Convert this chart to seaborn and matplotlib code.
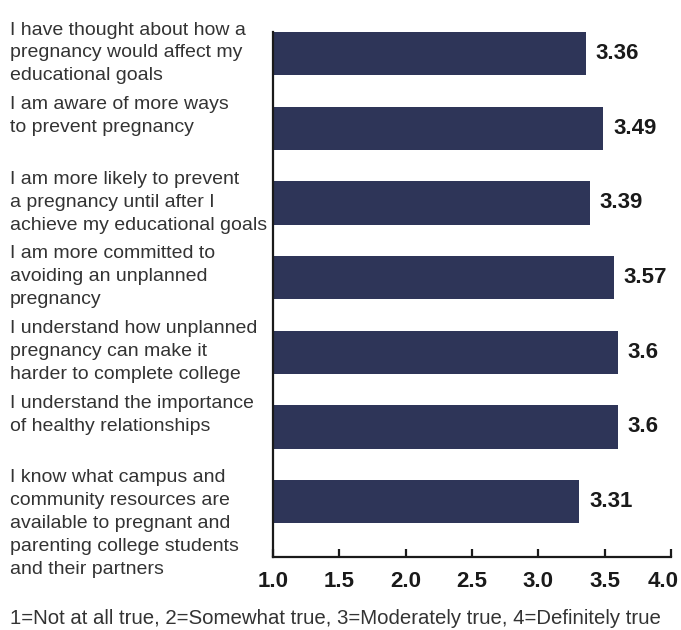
import matplotlib
matplotlib.use("Agg")
import matplotlib.pyplot as plt
import matplotlib.transforms as mtransforms
import seaborn as sns
import pandas as pd

categories = [
    "I have thought about how a\npregnancy would affect my\neducational goals",
    "I am aware of more ways\nto prevent pregnancy",
    "I am more likely to prevent\na pregnancy until after I\nachieve my educational goals",
    "I am more committed to\navoiding an unplanned\npregnancy",
    "I understand how unplanned\npregnancy can make it\nharder to complete college",
    "I understand the importance\nof healthy relationships",
    "I know what campus and\ncommunity resources are\navailable to pregnant and\nparenting college students\nand their partners",
]
values = [3.36, 3.49, 3.39, 3.57, 3.6, 3.6, 3.31]
value_labels = ["3.36", "3.49", "3.39", "3.57", "3.6", "3.6", "3.31"]
x_ticks = [1.0, 1.5, 2.0, 2.5, 3.0, 3.5, 4.0]
x_ticklabels = ["1.0", "1.5", "2.0", "2.5", "3.0", "3.5", "4.0"]
caption = "1=Not at all true, 2=Somewhat true, 3=Moderately true, 4=Definitely true"

sns.set_theme(style="white")
plt.rcParams["font.family"] = ["Liberation Sans", "DejaVu Sans"]

df = pd.DataFrame({"item": categories, "value": values})

fig = plt.figure(figsize=(6.81, 6.30), dpi=100)
ax = fig.add_axes([273 / 681, 1 - 557 / 630, 398 / 681, (557 - 32) / 630])

sns.barplot(data=df, y="item", x="value", orient="h", color="#2E3558",
            saturation=1, width=0.58, ax=ax)
for p in ax.patches:
    p.set_edgecolor("none")

ax.set_xlim(1.0, 4.0)
ax.set_ylim(6.743, -0.29)
ax.set_xticks(x_ticks)
ax.set_xticklabels(x_ticklabels, fontsize=16, fontweight="bold", color="#1a1a1a")
ax.set_yticks([])
ax.set_xlabel("")
ax.set_ylabel("")
ax.tick_params(axis="x", direction="in", length=6, width=1.6, color="#1a1a1a",
               pad=10, bottom=True)
for s in ["top", "right"]:
    ax.spines[s].set_visible(False)
for s in ["left", "bottom"]:
    ax.spines[s].set_linewidth(1.6)
    ax.spines[s].set_color("#1a1a1a")

tl = ax.get_xticklabels()
tl[-1].set_transform(tl[-1].get_transform() +
                     mtransforms.ScaledTranslation(-8 / 100, 0, fig.dpi_scale_trans))

for i, (v, lab) in enumerate(zip(values, value_labels)):
    ax.annotate(lab, xy=(v, i), xytext=(7, 0), textcoords="offset points",
                ha="left", va="center", fontsize=16, fontweight="bold",
                color="#1a1a1a")

trans = mtransforms.blended_transform_factory(fig.transFigure, ax.transData)
for i, cat in enumerate(categories):
    ax.text(10 / 681, i - 0.43, cat, transform=trans, ha="left", va="top",
            fontsize=14, color="#333333", linespacing=1.45, clip_on=False)

fig.text(10 / 681, 1 - 619 / 630, caption, ha="left", va="center",
         fontsize=14.7, color="#333333")

fig.savefig("out.png", dpi=100)
